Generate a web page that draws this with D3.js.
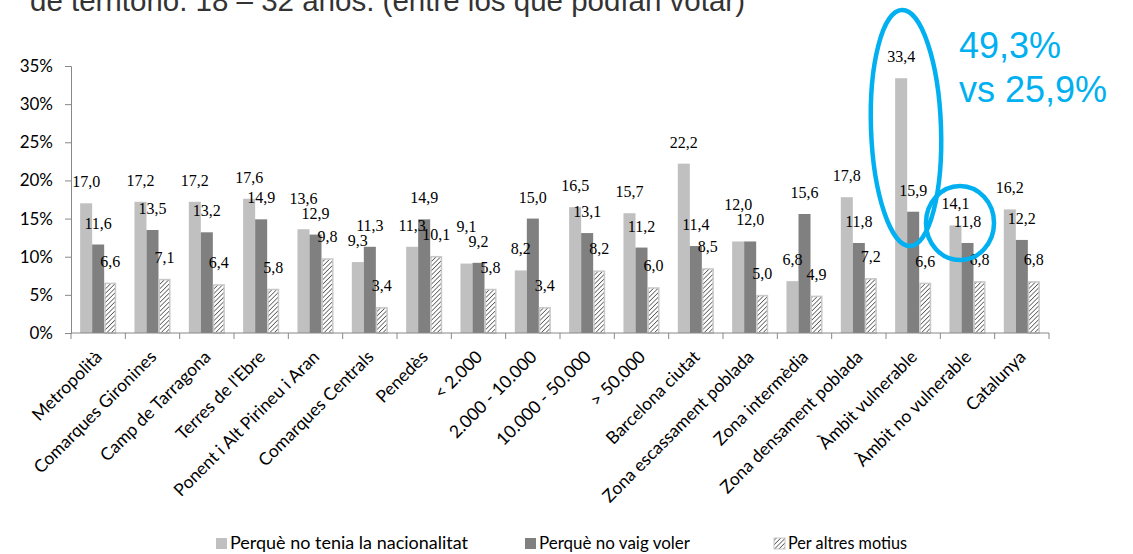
<!DOCTYPE html>
<meta charset="utf-8">
<style>
    body { margin: 0; background: #fff; }
    svg { display: block; }
    .cat { font-family: Lato, "Open Sans", sans-serif; font-size: 17.5px; fill: #000; }
    .val { font-family: "Liberation Serif", serif; font-size: 16px; fill: #000; }
    .ytick { font-family: Lato, "Open Sans", sans-serif; font-size: 17px; fill: #000; }
</style>
<body>
<div id="chart"></div>
<script src="https://cdnjs.cloudflare.com/ajax/libs/d3/7.8.5/d3.min.js"></script>
<script>
    var categories = ["Metropolità", "Comarques Gironines", "Camp de Tarragona", "Terres de l'Ebre",
        "Ponent i Alt Pirineu i Aran", "Comarques Centrals", "Penedès", "< 2.000", "2.000 - 10.000",
        "10.000 - 50.000", "> 50.000", "Barcelona ciutat", "Zona escassament poblada", "Zona  intermèdia",
        "Zona densament poblada", "Àmbit vulnerable", "Àmbit no vulnerable", "Catalunya"];
    var nacionalitat = [17.0, 17.2, 17.2, 17.6, 13.6, 9.3, 11.3, 9.1, 8.2, 16.5, 15.7, 22.2, 12.0, 6.8, 17.8, 33.4, 14.1, 16.2];
    var voler = [11.6, 13.5, 13.2, 14.9, 12.9, 11.3, 14.9, 9.2, 15.0, 13.1, 11.2, 11.4, 12.0, 15.6, 11.8, 15.9, 11.8, 12.2];
    var altres = [6.6, 7.1, 6.4, 5.8, 9.8, 3.4, 10.1, 5.8, 3.4, 8.2, 6.0, 8.5, 5.0, 4.9, 7.2, 6.6, 6.8, 6.8];
    var seriesNames = ["Perquè no tenia la nacionalitat", "Perquè no vaig voler", "Per altres motius"];
    var yTicks = [0, 5, 10, 15, 20, 25, 30, 35];

    var width = 1133,
        height = 554;

    var series = [
        { name: seriesNames[0], values: nacionalitat, fill: "#c0c0c0", stroke: "none" },
        { name: seriesNames[1], values: voler, fill: "#808080", stroke: "none" },
        { name: seriesNames[2], values: altres, fill: "url(#hatch)", stroke: "#c8c8c8" }
    ];

    var svg = d3.select("#chart").append("svg")
        .attr("width", width)
        .attr("height", height);

    // hatch pattern for the third series
    var defs = svg.append("defs");
    var pat = defs.append("pattern")
        .attr("id", "hatch")
        .attr("patternUnits", "userSpaceOnUse")
        .attr("width", 3.2)
        .attr("height", 3.2)
        .attr("patternTransform", "rotate(45)");
    pat.append("rect").attr("width", 3.2).attr("height", 3.2).attr("fill", "#fff");
    pat.append("line")
        .attr("x1", 0).attr("y1", 0).attr("x2", 0).attr("y2", 3.2)
        .attr("stroke", "#333").attr("stroke-width", 1.3);

    // title line, cut off at top of the slide
    svg.append("text")
        .attr("x", 30)
        .attr("y", 11)
        .style("font-family", "Liberation Sans, Arial, sans-serif")
        .style("font-size", "29.5px")
        .style("fill", "#333")
        .text("de territorio. 18 – 32 años. (entre los que podían votar)");

    var x0 = d3.scaleBand()
        .domain(categories)
        .range([71, 1049])
        .paddingInner(0)
        .paddingOuter(0);

    var x1 = d3.scaleBand()
        .domain([0, 1, 2])
        .range([0, x0.bandwidth()])
        .paddingInner(0)
        .paddingOuter(0.76);

    var y = d3.scaleLinear()
        .domain([0, 35])
        .range([333, 66]);

    // y axis
    var yAxis = svg.append("g")
        .attr("transform", "translate(71,0)")
        .call(d3.axisLeft(y).tickValues(yTicks).tickSize(6).tickPadding(12)
            .tickFormat(function (d) { return d + "%"; }));
    yAxis.select(".domain").attr("stroke", "#888");
    yAxis.selectAll(".tick line").attr("stroke", "#888");
    yAxis.selectAll(".tick text").attr("class", "ytick");

    // bars
    series.forEach(function (s, si) {
        var inset = si == 2 ? 0.75 : 0;
        svg.append("g").selectAll("rect")
            .data(s.values)
            .enter().append("rect")
            .attr("x", function (d, i) { return x0(categories[i]) + x1(si) + inset; })
            .attr("y", function (d) { return y(d) + inset; })
            .attr("width", x1.bandwidth() - 2 * inset)
            .attr("height", function (d) { return y(0) - y(d) - inset; })
            .attr("fill", s.fill)
            .attr("stroke", s.stroke)
            .attr("stroke-width", 1.5);
    });

    // value labels, pushed up when they collide with the next series' label
    var labels = [];
    categories.forEach(function (c, i) {
        var ly = series.map(function (s) { return y(s.values[i]) - 16; });
        for (var k = series.length - 2; k >= 0; k--) {
            if (Math.abs(ly[k] - ly[k + 1]) < 15) ly[k] = Math.min(ly[k], ly[k + 1] - 15);
        }
        series.forEach(function (s, si) {
            labels.push({
                x: x0(c) + x1(si) + x1.bandwidth() / 2,
                y: ly[si],
                v: s.values[i]
            });
        });
    });
    svg.append("g").selectAll("text")
        .data(labels)
        .enter().append("text")
        .attr("class", "val")
        .attr("x", function (d) { return d.x; })
        .attr("y", function (d) { return d.y; })
        .attr("text-anchor", "middle")
        .text(function (d) { return d.v.toFixed(1).replace(".", ","); });

    // x axis
    var xAxis = svg.append("g")
        .attr("transform", "translate(0,333)");
    xAxis.append("line")
        .attr("x1", 71).attr("x2", 1049)
        .attr("stroke", "#888");
    xAxis.selectAll(".tk")
        .data(categories.concat(["end"]))
        .enter().append("line")
        .attr("x1", function (d, i) { return 71 + i * x0.bandwidth(); })
        .attr("x2", function (d, i) { return 71 + i * x0.bandwidth(); })
        .attr("y1", 0).attr("y2", 6)
        .attr("stroke", "#888");
    xAxis.selectAll(".cat")
        .data(categories)
        .enter().append("text")
        .attr("class", "cat")
        .attr("text-anchor", "end")
        .attr("transform", function (d) {
            return "translate(" + (x0(d) + x0.bandwidth() / 2 + 5) + ",25) rotate(-45)";
        })
        .text(function (d) { return d; });

    // legend
    var legendX = [216, 525, 774];
    var legendW = [238, 151, 119];
    var legend = svg.append("g").attr("transform", "translate(0,549)");
    series.forEach(function (s, i) {
        legend.append("rect")
            .attr("x", legendX[i]).attr("y", -11)
            .attr("width", 11).attr("height", 11)
            .attr("fill", s.fill)
            .attr("stroke", s.stroke)
            .attr("stroke-width", 1);
        legend.append("text")
            .attr("x", legendX[i] + 14)
            .attr("y", 0)
            .attr("textLength", legendW[i])
            .attr("lengthAdjust", "spacingAndGlyphs")
            .style("font-family", "Lato, 'Open Sans', sans-serif")
            .style("font-size", "17px")
            .text(s.name);
    });

    // annotations
    var blue = "#00b0f0";
    svg.append("ellipse")
        .attr("cx", 906).attr("cy", 128)
        .attr("rx", 35).attr("ry", 118)
        .attr("transform", "rotate(-2,906,128)")
        .attr("fill", "none").attr("stroke", blue).attr("stroke-width", 4.5);
    svg.append("ellipse")
        .attr("cx", 960).attr("cy", 223)
        .attr("rx", 34).attr("ry", 37)
        .attr("fill", "none").attr("stroke", blue).attr("stroke-width", 4.5);
    svg.append("text")
        .attr("x", 959).attr("y", 58)
        .style("font-family", "Liberation Sans, Arial, sans-serif")
        .style("font-size", "36px")
        .style("fill", blue)
        .text("49,3%");
    svg.append("text")
        .attr("x", 959).attr("y", 102)
        .style("font-family", "Liberation Sans, Arial, sans-serif")
        .style("font-size", "36px")
        .style("fill", blue)
        .text("vs 25,9%");
</script>
</body>
